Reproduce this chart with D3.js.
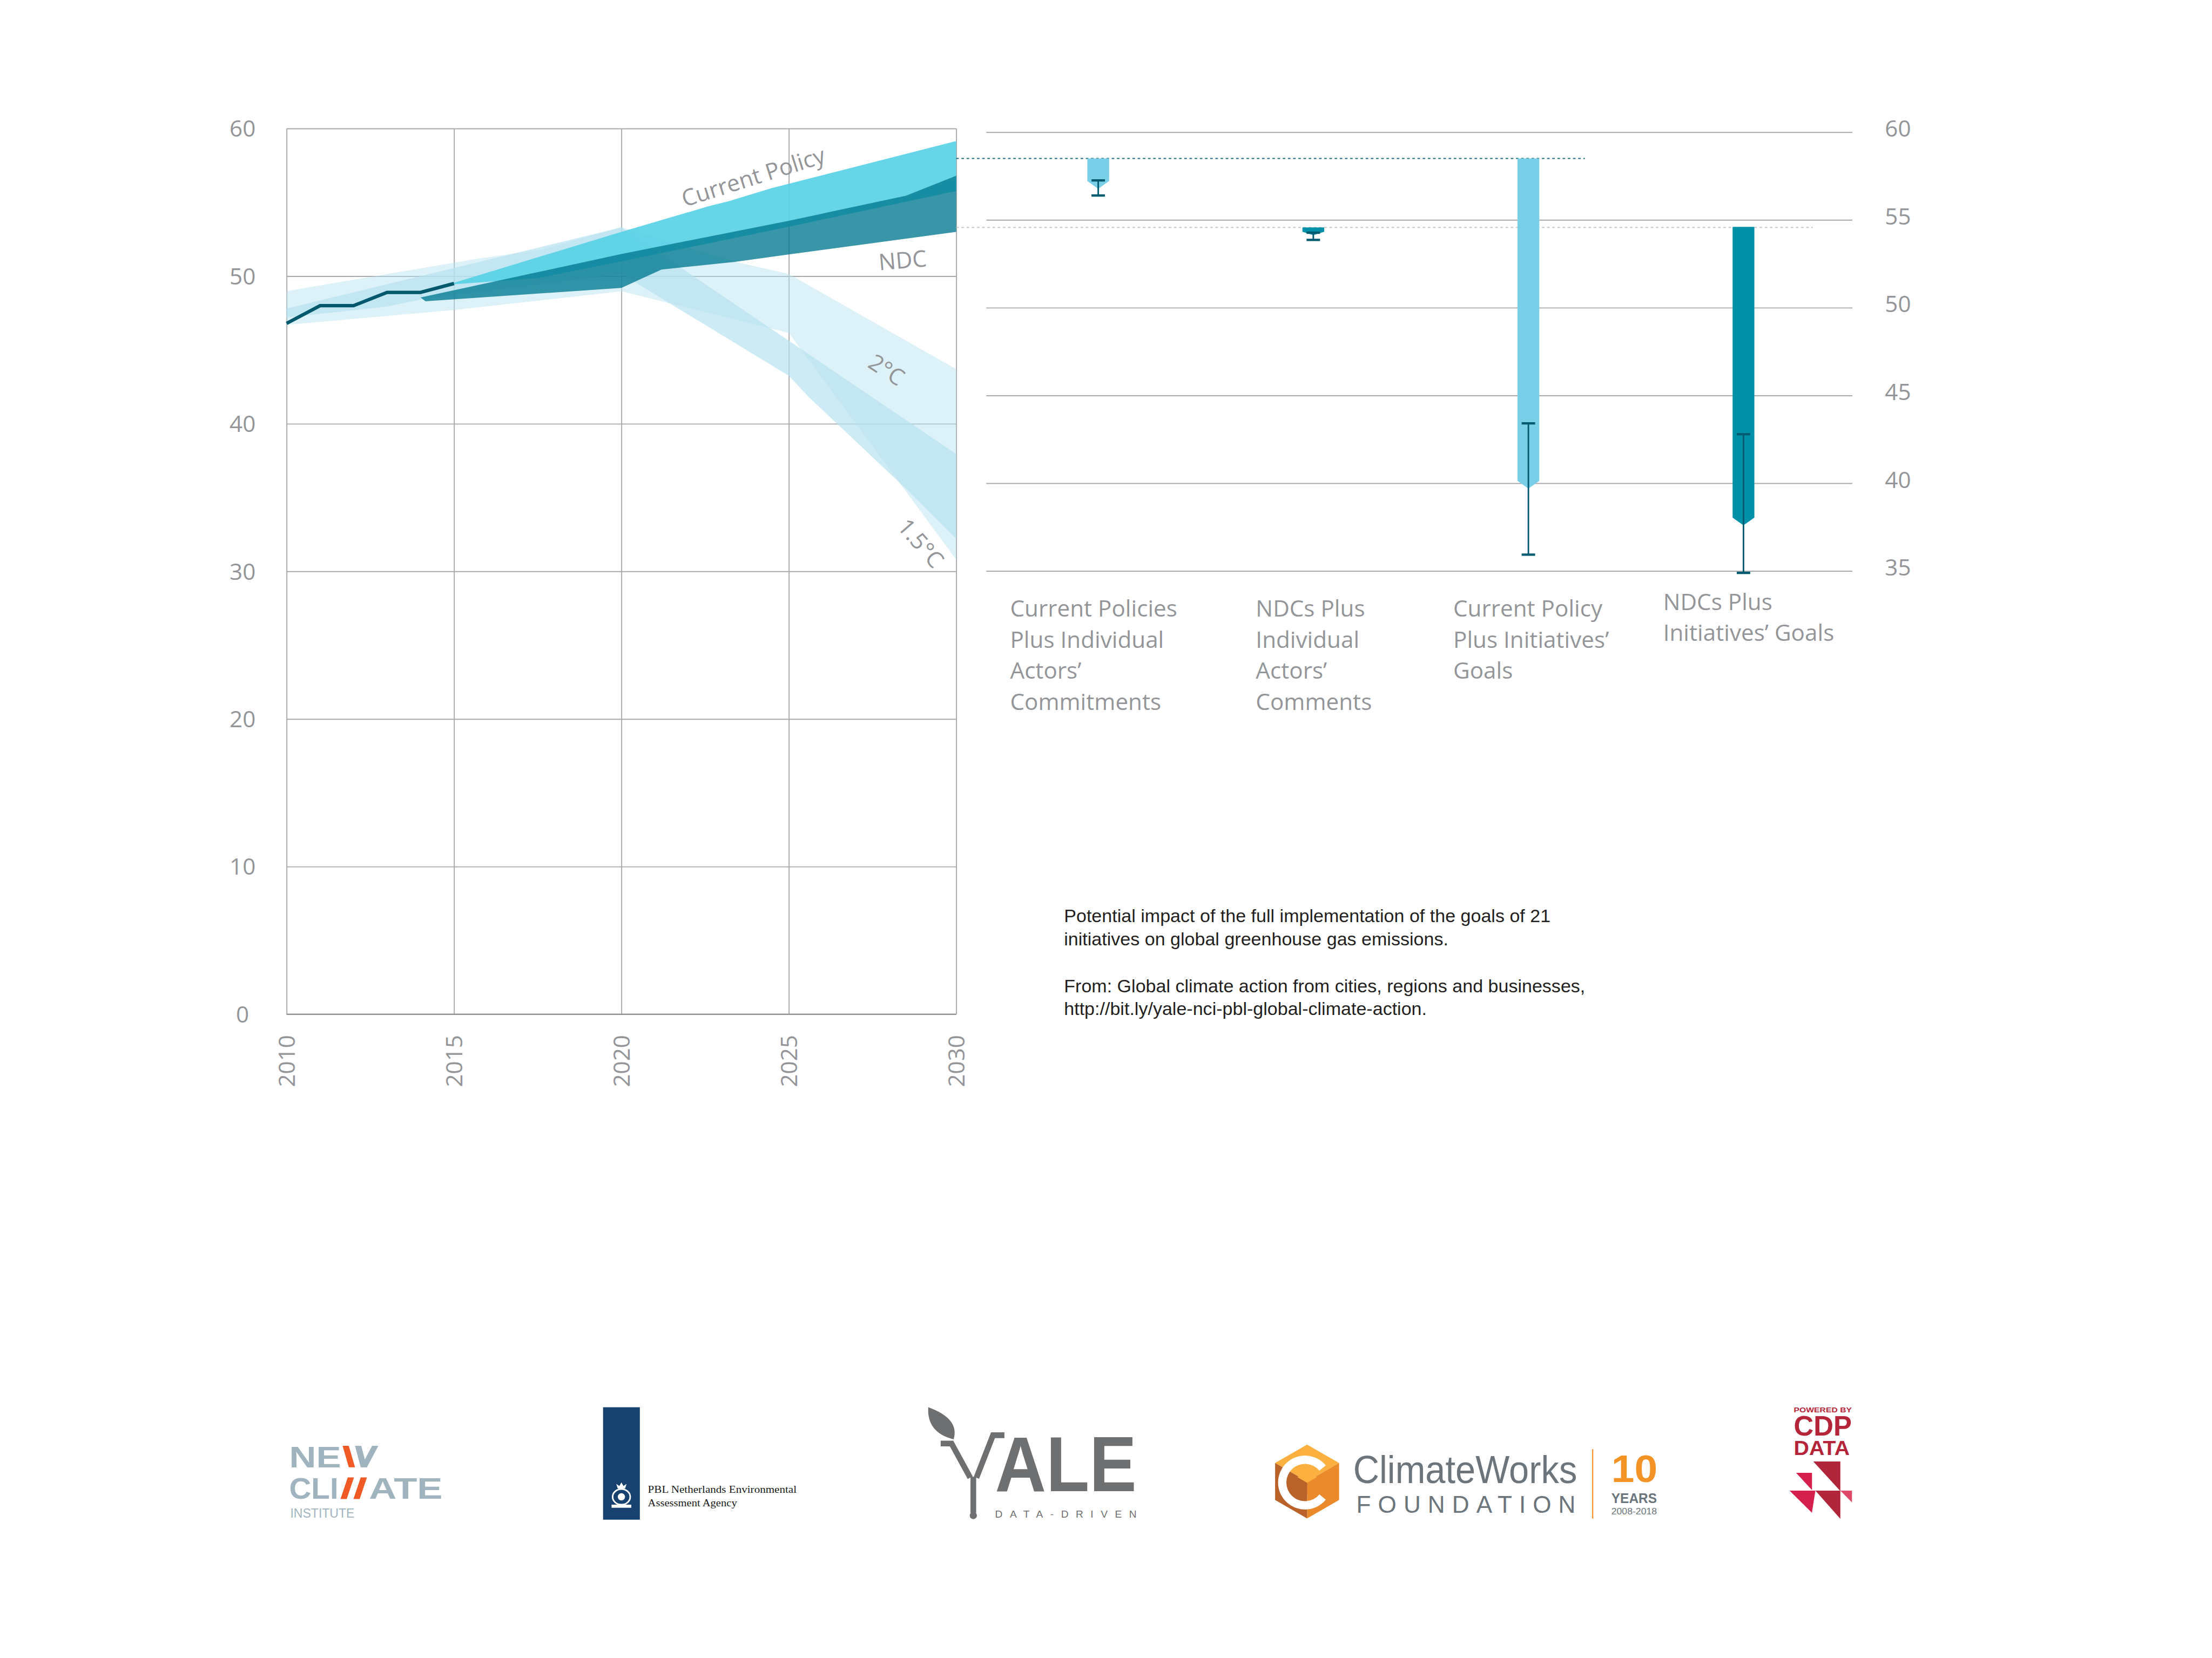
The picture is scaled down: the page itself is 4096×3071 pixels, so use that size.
<!DOCTYPE html>
<html><head><meta charset="utf-8">
<script src="https://cdn.jsdelivr.net/npm/d3@7"></script>
<style>html,body{margin:0;padding:0;background:#fff;} svg{display:block;}</style>
</head><body>
<script>
// ---------------- DATA ----------------
const xTickYears = [2010, 2015, 2020, 2025, 2030];
const leftTicks = [0, 10, 20, 30, 40, 50, 60];
const rightTicks = [35, 40, 45, 50, 55, 60];

const histYears = [2010, 2011, 2012, 2013, 2014, 2015];
const histValues = [46.8, 48.0, 48.0, 48.9, 48.9, 49.5];

// pathway bands: [year, GtCO2e]
const twoDegTop = [[2010,48.98],[2015.67,51.17],[2017.64,51.8],[2020,53.33],[2023.4,50.97],[2025,50.14],[2030,43.7]];
const twoDegBottom = [[2010,46.7],[2015,47.7],[2020,48.97],[2025,46.15],[2030,30.8]];
const onePtFiveTop = [[2010,47.8],[2020,53.3],[2030,37.95]];
const onePtFiveBottom = [[2010,47.2],[2013,47.94],[2014.2,48.5],[2020,50.15],[2025,43.25],[2025.6,41.8],[2028.5,35.6],[2030,32.2]];
const cpTop = [[2015,49.55],[2020,53.0],[2022.6,54.73],[2023.2,55.07],[2024.5,55.97],[2030,59.15]];
const cpBottom = [[2015,49.45],[2017.5,49.86],[2020,51.0],[2025,53.34],[2030,55.77]];
const ndcTop = [[2014.0,48.55],[2020,51.5],[2025,53.75],[2028.5,55.45],[2030,56.8]];
const ndcBottom = [[2014.15,48.3],[2020,49.2],[2021.2,50.45],[2023.4,50.97],[2025,51.47],[2030,53.0]];

// right chart
const scenarios = ["Current Policies Plus Individual Actors’ Commitments",
                   "NDCs Plus Individual Actors’ Comments",
                   "Current Policy Plus Initiatives’ Goals",
                   "NDCs Plus Initiatives’ Goals"];
const scenarioLines = [["Current Policies","Plus Individual","Actors’","Commitments"],
                       ["NDCs Plus","Individual","Actors’","Comments"],
                       ["Current Policy","Plus Initiatives’","Goals"],
                       ["NDCs Plus","Initiatives’ Goals"]];
const scenarioBase = ["cp","ndc","cp","ndc"];
const barFrom = [58.5, 54.57, 58.5, 54.6];
const barTo = [56.77, 54.13, 39.69, 37.6];
const errHigh = [57.25, 54.27, 43.41, 42.79];
const errLow = [56.39, 53.86, 35.93, 34.89];

const noteLines = ["Potential impact of the full implementation of the goals of 21",
                   "initiatives on global greenhouse gas emissions.",
                   "",
                   "From: Global climate action from cities, regions and businesses,",
                   "http://bit.ly/yale-nci-pbl-global-climate-action."];

// ---------------- LAYOUT ----------------
const S = 4096 / 4268;
const GRAY = "#939598", GRID = "#A7A9AC";
const svg = d3.select("body").append("svg").attr("width", 4096).attr("height", 3071);
svg.append("rect").attr("width",4096).attr("height",3071).attr("fill","#fff");
const g = svg.append("g").attr("transform", `scale(${S})`);

// ----- left chart -----
const xL = d3.scaleLinear().domain([2010, 2030]).range([553, 1845]);
const yL = d3.scaleLinear().domain([0, 60]).range([1957.5, 248]);

const ax = g.append("g").attr("transform", "translate(553,0)")
  .call(d3.axisLeft(yL).tickValues(leftTicks).tickSize(-(1845 - 553)).tickFormat(d3.format("d")));
ax.select(".domain").remove();
ax.selectAll("line").attr("stroke", GRID).attr("stroke-width", 2);
ax.selectAll("text").attr("x", -85).attr("dy", "0.35em").attr("text-anchor", "middle")
  .attr("fill", GRAY).style("font-family", "Open Sans").style("font-size", "44px");

const bx = g.append("g").attr("transform", "translate(0,1957.5)")
  .call(d3.axisBottom(xL).tickValues(xTickYears).tickSize(-(1957.5 - 248)).tickFormat(d3.format("d")));
bx.select(".domain").remove();
bx.selectAll("line").attr("stroke", GRID).attr("stroke-width", 2);
bx.selectAll("text").attr("transform", "rotate(-90)").attr("x", -40).attr("y", 0).attr("dy", "0.35em")
  .attr("text-anchor", "end").attr("fill", GRAY).style("font-family", "Open Sans").style("font-size", "44px");
g.append("line").attr("x1", xL(2010)).attr("x2", xL(2030)).attr("y1", yL(0)).attr("y2", yL(0))
  .attr("stroke", "#8d8f92").attr("stroke-width", 2.5);

const bandLine = d3.line().x(d => xL(d[0])).y(d => yL(d[1])).curve(d3.curveLinearClosed);
const poly = (top, bot) => top.concat(bot.slice().reverse());
const bands = g.append("g");
bands.append("path").attr("d", bandLine(poly(twoDegTop, twoDegBottom))).attr("fill", "rgb(183,227,241)").attr("fill-opacity", 0.47);
bands.append("path").attr("d", bandLine(poly(onePtFiveTop, onePtFiveBottom))).attr("fill", "rgb(183,227,241)").attr("fill-opacity", 0.7);
bands.append("path").attr("d", bandLine(poly(cpTop, cpBottom))).attr("fill", "rgb(85,208,229)").attr("fill-opacity", 0.9);
bands.append("path").attr("d", bandLine(poly(ndcTop, ndcBottom))).attr("fill", "rgb(0,120,143)").attr("fill-opacity", 0.78);

const histLine = d3.line().x((d, i) => xL(histYears[i])).y(d => yL(d));
g.append("path").attr("d", histLine(histValues)).attr("fill", "none")
  .attr("stroke", "#00586D").attr("stroke-width", 6.5).attr("stroke-linejoin", "miter");

const chartLabels = [
  {t: "Current Policy", yr: 2024.01, v: 56.2, a: -17.5},
  {t: "NDC", yr: 2028.42, v: 50.53, a: -5},
  {t: "2°C", yr: 2027.79, v: 43.2, a: 33},
  {t: "1.5°C", yr: 2028.76, v: 31.55, a: 49}
];
g.selectAll("text.cl").data(chartLabels).join("text").attr("class", "cl")
  .attr("transform", d => `translate(${xL(d.yr)},${yL(d.v)}) rotate(${d.a})`)
  .attr("text-anchor", "middle").attr("fill", GRAY)
  .style("font-family", "Open Sans").style("font-size", "44px").text(d => d.t);

// ----- right chart -----
const yR = d3.scaleLinear().domain([35, 60]).range([1102, 255]);
const xR = d3.scaleBand().domain(scenarios).range([1911.5, 3571.5]);

const rx = g.append("g").attr("transform", "translate(3574,0)")
  .call(d3.axisRight(yR).tickValues(rightTicks).tickSize(-(3574 - 1903)).tickFormat(d3.format("d")));
rx.select(".domain").remove();
rx.selectAll("line").attr("stroke", GRID).attr("stroke-width", 2);
rx.selectAll("text").attr("x", 88).attr("y", -7).attr("dy", "0.35em").attr("text-anchor", "middle")
  .attr("fill", GRAY).style("font-family", "Open Sans").style("font-size", "44px");

g.append("line").attr("x1", xL(2030)).attr("x2", 3058).attr("y1", yR(barFrom[0])).attr("y2", yR(barFrom[0]))
  .attr("stroke", "#1d6e7f").attr("stroke-width", 2.2).attr("stroke-dasharray", "5,5");
g.append("line").attr("x1", xL(2030)).attr("x2", 3498).attr("y1", yR(barFrom[1])).attr("y2", yR(barFrom[1]))
  .attr("stroke", "#c4c6c8").attr("stroke-width", 2).attr("stroke-dasharray", "5,5");

const barW = 42, colors = {cp: "#79CFE8", ndc: "#0090A8"};
scenarios.forEach((s, i) => {
  const cx = xR(s) + xR.bandwidth() / 2;
  const y0 = yR(barFrom[i]), yt = yR(barTo[i]);
  const dep = Math.min(15, (yt - y0) * 0.45);
  const p = d3.path();
  p.moveTo(cx - barW / 2, y0); p.lineTo(cx + barW / 2, y0); p.lineTo(cx + barW / 2, yt - dep);
  p.lineTo(cx, yt); p.lineTo(cx - barW / 2, yt - dep); p.closePath();
  g.append("path").attr("d", p.toString()).attr("fill", colors[scenarioBase[i]]);
  const eh = yR(errHigh[i]), el = yR(errLow[i]);
  g.append("line").attr("x1", cx).attr("x2", cx).attr("y1", eh).attr("y2", el).attr("stroke", "#005B70").attr("stroke-width", 3);
  [eh, el].forEach(yy => g.append("line").attr("x1", cx - 13).attr("x2", cx + 13).attr("y1", yy).attr("y2", yy)
    .attr("stroke", "#005B70").attr("stroke-width", 4.5));
});

const labelDx = [37.5, 96.5, 62.5, 52.5], labelDy = [0, 0, 0, -13];
scenarios.forEach((s, i) => {
  const t = g.append("text").attr("fill", GRAY).style("font-family", "Open Sans").style("font-size", "44px");
  scenarioLines[i].forEach((ln, j) => t.append("tspan").attr("x", xR(s) + labelDx[i]).attr("y", 1190 + labelDy[i] + j * 60).text(ln));
});

const nt = g.append("text").attr("fill", "#231F20").style("font-family", "Liberation Sans, Arial, sans-serif").style("font-size", "35.5px");
const noteY = [1780, 1824.5, 0, 1915, 1959];
noteLines.forEach((ln, j) => { if (ln) nt.append("tspan").attr("x", 2053).attr("y", noteY[j]).text(ln); });

// ---------------- LOGOS ----------------
const lg = g.append("g");
function stack(items) {
  const t = lg.append("text");
  items.forEach(o => {
    const ts = t.append("tspan").attr("x", o.x).attr("y", o.y).attr("fill", o.fill)
      .style("font-family", o.family || "Liberation Sans, Arial, sans-serif")
      .style("font-size", o.size + "px").style("font-weight", o.weight || "normal").text(o.s);
    if (o.len) ts.attr("textLength", o.len).attr("lengthAdjust", o.adj || "spacingAndGlyphs");
  });
  return t;
}
function pg(pts, fill) { lg.append("polygon").attr("points", pts.map(p => p.join(",")).join(" ")).attr("fill", fill); }

// NewClimate Institute
const NCG = "#9FB4BE", NCO = "#F15A24";
stack([
  {x: 558, y: 2832, s: "NE", size: 58, fill: NCG, weight: "bold", len: 100},
  {x: 558, y: 2893, s: "CLI", size: 58, fill: NCG, weight: "bold", len: 95},
  {x: 712, y: 2893, s: "ATE", size: 58, fill: NCG, weight: "bold", len: 142},
  {x: 560, y: 2928.6, s: "INSTITUTE", size: 25, fill: NCG, len: 124}
]);
pg([[661,2790.5],[673,2790.5],[685,2832],[673,2832]], NCO);
pg([[685,2790.5],[697,2790.5],[708,2832],[696,2832]], NCG);
pg([[696,2832],[708,2832],[730,2790.5],[718,2790.5]], NCG);
pg([[657,2893],[669,2893],[683,2851.5],[671,2851.5]], NCO);
pg([[682,2893],[694,2893],[708,2851.5],[696,2851.5]], NCO);

// PBL
lg.append("rect").attr("x", 1163.6).attr("y", 2716).attr("width", 71).attr("height", 217).attr("fill", "#17416E");
lg.append("ellipse").attr("cx", 1199).attr("cy", 2889).attr("rx", 17).attr("ry", 15).attr("fill", "none").attr("stroke", "#fff").attr("stroke-width", 3);
pg([[1192,2873],[1206,2873],[1209,2864],[1203,2868],[1199,2861],[1195,2868],[1189,2864]], "#fff");
lg.append("rect").attr("x", 1180).attr("y", 2904).attr("width", 38).attr("height", 6).attr("fill", "#fff");
lg.append("circle").attr("cx", 1199).attr("cy", 2889).attr("r", 7).attr("fill", "#fff");
stack([
  {x: 1250, y: 2881, s: "PBL Netherlands Environmental", size: 20, fill: "#1a1a1a", family: "Liberation Serif, serif", len: 287},
  {x: 1250, y: 2907, s: "Assessment Agency", size: 20, fill: "#1a1a1a", family: "Liberation Serif, serif", len: 172}
]);

// Yale
const YG = "#6E6F71";
lg.append("path").attr("d", "M1791,2716 Q1852,2738 1840,2778 Q1788,2765 1791,2716 Z").attr("fill", YG);
lg.append("path").attr("d", "M1815,2786 L1836,2786 L1872,2852 M1938,2770 L1916,2770 L1884,2852 M1878,2850 L1878,2920")
  .attr("fill", "none").attr("stroke", YG).attr("stroke-width", 11);
lg.append("circle").attr("cx", 1878).attr("cy", 2925).attr("r", 7).attr("fill", YG);
stack([
  {x: 1920, y: 2878, s: "ALE", size: 150, fill: YG, weight: "bold", len: 273},
  {x: 1920, y: 2929, s: "DATA-DRIVEN", size: 20, fill: YG, len: 273, adj: "spacing"}
]);

// ClimateWorks
const hc = [2522, 2859.3], R = 71.3, hw = R * Math.sqrt(3) / 2;
const hv = {t: [hc[0], hc[1] - R], ur: [hc[0] + hw, hc[1] - R / 2], lr: [hc[0] + hw, hc[1] + R / 2],
            b: [hc[0], hc[1] + R], ll: [hc[0] - hw, hc[1] + R / 2], ul: [hc[0] - hw, hc[1] - R / 2]};
pg([hv.ul, hv.t, hv.ur, hc], "#FBB040");
pg([hv.ur, hv.lr, hv.b, hc], "#EA8A2A");
pg([hv.ul, hc, hv.b, hv.ll], "#B9632A");
const arc = d3.arc().innerRadius(36).outerRadius(52).startAngle(Math.PI * 0.72).endAngle(Math.PI * 2.28);
lg.append("path").attr("d", arc()).attr("transform", `translate(${hc[0] - 4},${hc[1] + 2})`).attr("fill", "#fff");
const ic = [2522, 2862], r2 = 22, w2 = r2 * Math.sqrt(3) / 2;
pg([[ic[0] - w2, ic[1] - r2 / 2], [ic[0], ic[1] - r2], [ic[0] + w2, ic[1] - r2 / 2], ic], "#FBB040");
pg([[ic[0] + w2, ic[1] - r2 / 2], [ic[0] + w2, ic[1] + r2 / 2], [ic[0], ic[1] + r2], ic], "#EA8A2A");
pg([[ic[0] - w2, ic[1] - r2 / 2], ic, [ic[0], ic[1] + r2], [ic[0] - w2, ic[1] + r2 / 2]], "#B9632A");
const CWG = "#6C757C";
lg.append("line").attr("x1", 3073).attr("x2", 3073).attr("y1", 2797).attr("y2", 2931).attr("stroke", "#F39A3A").attr("stroke-width", 2.5);
stack([
  {x: 2611, y: 2862, s: "ClimateWorks", size: 76, fill: CWG, len: 432},
  {x: 2617, y: 2920, s: "FOUNDATION", size: 46, fill: CWG, len: 423, adj: "spacing"}
]);
stack([
  {x: 3109, y: 2860, s: "10", size: 74, fill: "#F39325", weight: "bold", len: 89},
  {x: 3109, y: 2900.5, s: "YEARS", size: 27, fill: CWG, weight: "bold", len: 88},
  {x: 3109, y: 2923, s: "2008-2018", size: 18, fill: CWG, len: 88}
]);

// CDP
const CR = "#B5253A";
stack([
  {x: 3461, y: 2725.4, s: "POWERED BY", size: 13, fill: CR, weight: "bold", len: 112},
  {x: 3461, y: 2770.6, s: "CDP", size: 54, fill: CR, weight: "bold", len: 112},
  {x: 3461, y: 2808, s: "DATA", size: 38, fill: CR, weight: "bold", len: 108}
]);
pg([[3498.7,2820.8],[3550.9,2820.8],[3550.9,2877.7]], "#B0253A");
pg([[3465.5,2842.6],[3496.2,2842.6],[3496.2,2876]], "#D51F4C");
pg([[3453,2877],[3502.8,2877],[3496,2919.6]], "#D51F4C");
pg([[3502.8,2877],[3550.9,2877],[3550.9,2931.3]], "#B0253A");
pg([[3550.9,2877],[3573.3,2877],[3573.3,2899.5]], "#E0486A");
</script>
</body></html>
